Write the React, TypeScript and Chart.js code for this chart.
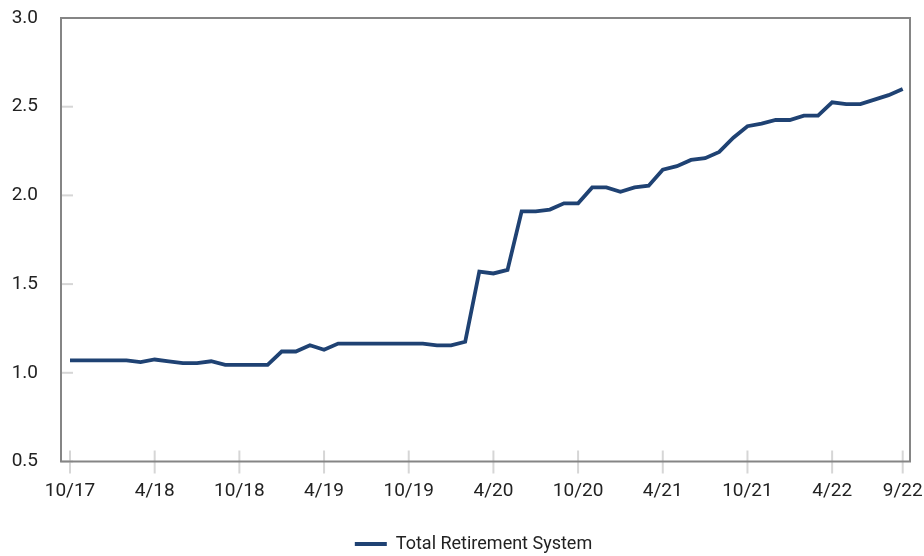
import React, { useEffect, useRef } from "react";
import { Chart, registerables } from "chart.js";

Chart.register(...registerables);

const months: string[] = [
  "10/17", "11/17", "12/17", "1/18", "2/18", "3/18", "4/18", "5/18", "6/18", "7/18", "8/18", "9/18",
  "10/18", "11/18", "12/18", "1/19", "2/19", "3/19", "4/19", "5/19", "6/19", "7/19", "8/19", "9/19",
  "10/19", "11/19", "12/19", "1/20", "2/20", "3/20", "4/20", "5/20", "6/20", "7/20", "8/20", "9/20",
  "10/20", "11/20", "12/20", "1/21", "2/21", "3/21", "4/21", "5/21", "6/21", "7/21", "8/21", "9/21",
  "10/21", "11/21", "12/21", "1/22", "2/22", "3/22", "4/22", "5/22", "6/22", "7/22", "8/22", "9/22",
];

const totalRetirementSystem: number[] = [
  1.07, 1.07, 1.07, 1.07, 1.07, 1.06, 1.075, 1.065, 1.055, 1.055, 1.065, 1.045,
  1.045, 1.045, 1.045, 1.12, 1.12, 1.155, 1.13, 1.165, 1.165, 1.165, 1.165, 1.165,
  1.165, 1.165, 1.155, 1.155, 1.175, 1.57, 1.56, 1.58, 1.91, 1.91, 1.92, 1.955,
  1.955, 2.045, 2.045, 2.02, 2.045, 2.055, 2.145, 2.165, 2.2, 2.21, 2.245, 2.325,
  2.39, 2.405, 2.425, 2.425, 2.45, 2.45, 2.525, 2.515, 2.515, 2.54, 2.565, 2.6,
];

const xTickLabels: string[] = ["10/17", "4/18", "10/18", "4/19", "10/19", "4/20", "10/20", "4/21", "10/21", "4/22", "9/22"];
const yTicks: number[] = [0.5, 1.0, 1.5, 2.0, 2.5, 3.0];

const seriesName = "Total Retirement System";
const lineColor = "#1f4273";
const textColor = "#222222";
const fontFamily = "Roboto, sans-serif";
const tickFontSize = 19;
const legendFontSize = 18;
const clear = "rgba(0,0,0,0)";

const framePlugin = {
  id: "framePlugin",
  afterLayout(chart: any) {
    if (chart.legend) chart.legend.left += 37;
  },
  beforeDatasetsDraw(chart: any) {
    const { ctx, chartArea: a, scales } = chart;
    ctx.save();
    ctx.strokeStyle = "#d6d6d6";
    ctx.lineWidth = 2;
    scales.y.ticks.forEach((t: any) => {
      const y = scales.y.getPixelForValue(t.value);
      ctx.beginPath();
      ctx.moveTo(a.left, y);
      ctx.lineTo(a.left + 12, y);
      ctx.stroke();
    });
    scales.x.ticks.forEach((t: any) => {
      const x = scales.x.getPixelForValue(t.value);
      ctx.beginPath();
      ctx.moveTo(x, a.bottom - 11);
      ctx.lineTo(x, a.bottom + 12);
      ctx.stroke();
    });
    ctx.strokeStyle = "#858585";
    ctx.lineWidth = 2;
    ctx.strokeRect(a.left, a.top, a.right - a.left, a.bottom - a.top);
    ctx.restore();
  },
};

export default function App() {
  const ref = useRef<HTMLCanvasElement | null>(null);

  useEffect(() => {
    if (!ref.current) return;
    const tickIndex = xTickLabels.map((l) => months.indexOf(l));
    const chart = new Chart(ref.current, {
      type: "line",
      data: {
        datasets: [
          {
            label: seriesName,
            data: totalRetirementSystem.map((v, i) => ({ x: i, y: v })),
            borderColor: lineColor,
            backgroundColor: lineColor,
            borderWidth: 3.8,
            pointRadius: 0,
            pointHoverRadius: 0,
            tension: 0,
            fill: false,
          },
        ],
      },
      options: {
        animation: false,
        responsive: false,
        devicePixelRatio: 1,
        events: [],
        layout: { padding: { left: 0, right: 14, top: 18, bottom: -7 } },
        scales: {
          x: {
            type: "linear",
            min: -0.638,
            max: 59.517,
            grid: { display: true, drawOnChartArea: false, drawTicks: true, tickLength: 18, color: clear, tickColor: clear },
            border: { display: false },
            afterBuildTicks: (scale: any) => {
              scale.ticks = tickIndex.map((v) => ({ value: v }));
            },
            afterFit: (scale: any) => {
              scale.height = 63.5;
            },
            ticks: {
              autoSkip: false,
              maxRotation: 0,
              minRotation: 0,
              padding: 0,
              color: textColor,
              font: { family: fontFamily, size: tickFontSize },
              callback: (value: any) => {
                const idx = tickIndex.indexOf(Number(value));
                return idx >= 0 ? xTickLabels[idx] : "";
              },
            },
          },
          y: {
            min: 0.5,
            max: 3.0,
            grid: { display: true, drawOnChartArea: false, drawTicks: true, tickLength: 23, color: clear, tickColor: clear },
            border: { display: false },
            afterBuildTicks: (scale: any) => {
              scale.ticks = yTicks.map((v) => ({ value: v }));
            },
            afterFit: (scale: any) => {
              scale.width = 61;
            },
            ticks: {
              padding: 0,
              color: textColor,
              font: { family: fontFamily, size: tickFontSize },
              callback: (value: any) => Number(value).toFixed(1),
            },
          },
        },
        plugins: {
          legend: {
            display: true,
            position: "bottom",
            labels: {
              usePointStyle: true,
              pointStyle: "line",
              pointStyleWidth: 32,
              color: textColor,
              padding: 10,
              font: { family: fontFamily, size: legendFontSize },
            },
          },
          tooltip: { enabled: false },
        },
      },
      plugins: [framePlugin],
    });
    return () => chart.destroy();
  }, []);

  return (
    <div style={{ position: "absolute", left: 0, top: 0, width: 924, height: 556, background: "#ffffff" }}>
      <canvas ref={ref} width={924} height={556} />
    </div>
  );
}
